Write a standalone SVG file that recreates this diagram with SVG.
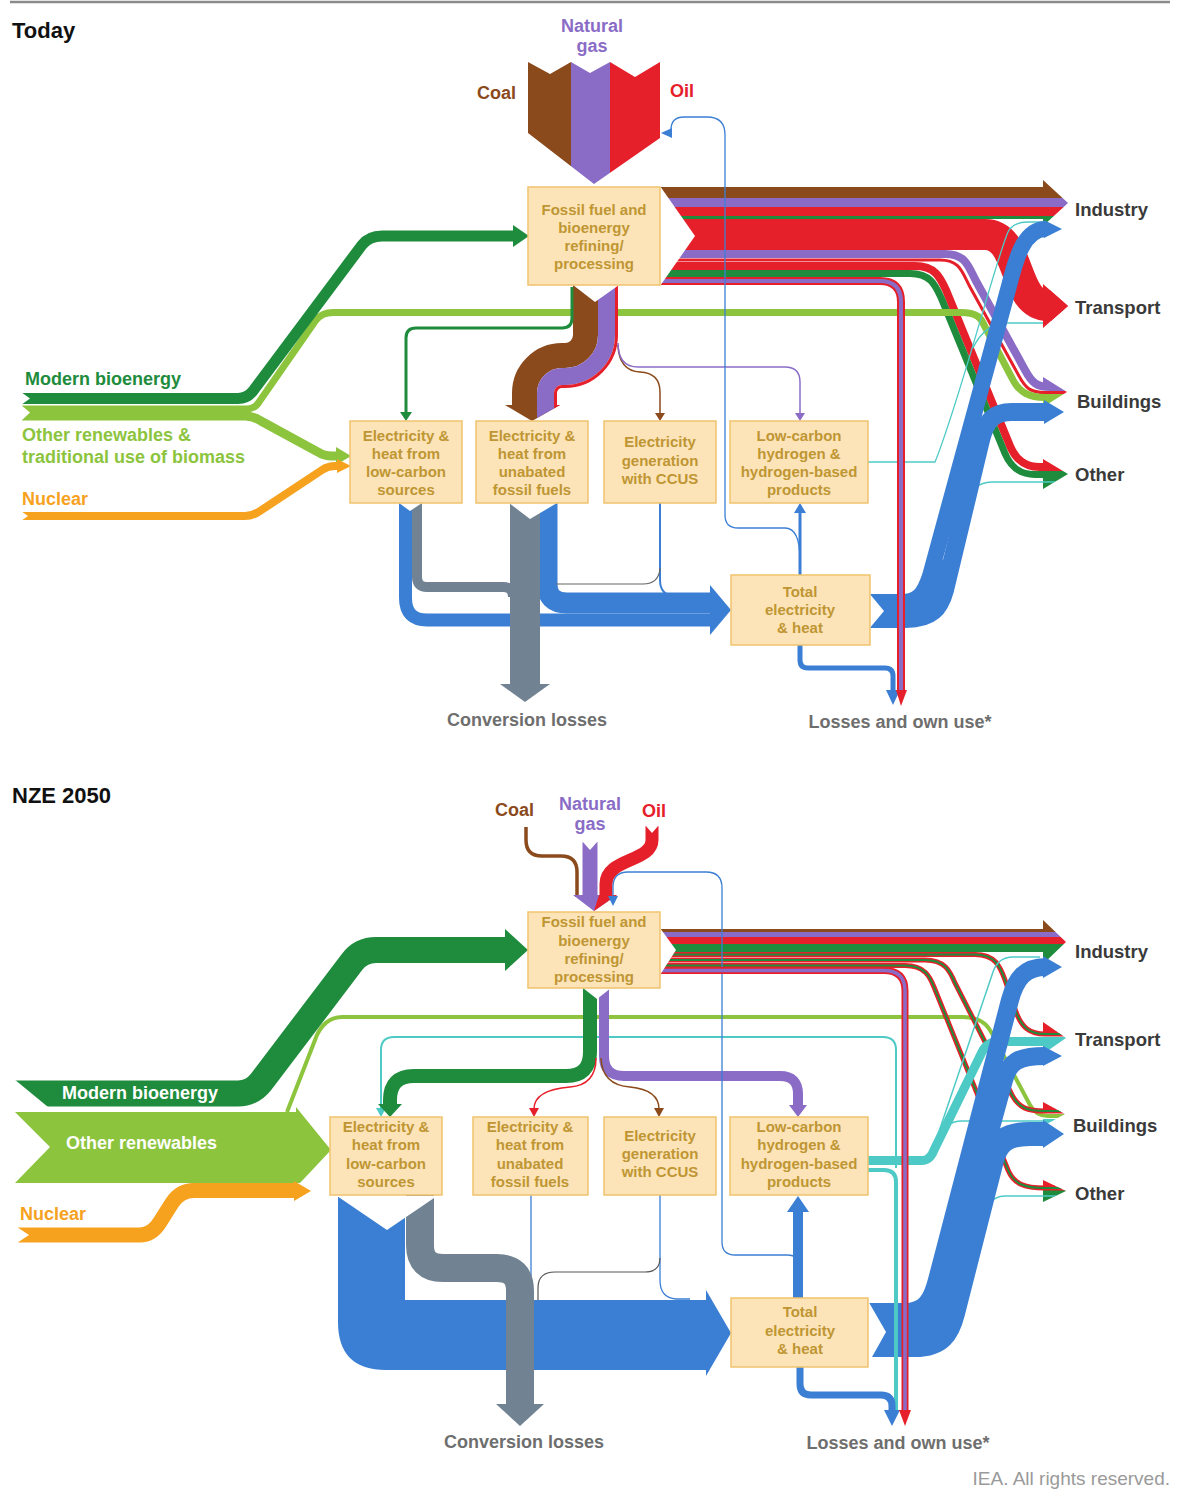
<svg xmlns="http://www.w3.org/2000/svg" width="1178" height="1499" viewBox="0 0 1178 1499">
<defs>
<style>
text{font-family:"Liberation Sans",Arial,Helvetica,sans-serif}
.ttl{font-size:22px;font-weight:bold;fill:#111}
.box{fill:#fce4b8;stroke:#efc36e;stroke-width:1.5}
.bt{font-size:15px;font-weight:bold;fill:#bf9633;text-anchor:middle}
.lb{font-size:18px;font-weight:bold}
.dst{font-size:18.5px;font-weight:bold;fill:#3a3a3a}
.los{font-size:18px;font-weight:bold;fill:#6e6e6e;text-anchor:middle}
.f{fill:none}
.s-br{stroke:#8b4a1c}.s-pu{stroke:#8a6cc7}.s-rd{stroke:#e6202a}.s-dg{stroke:#1e8c3c}.s-lg{stroke:#8cc43e}.s-or{stroke:#f6a21f}.s-bl{stroke:#3b7fd4}.s-gy{stroke:#718292}.s-tl{stroke:#4ecac6}
.br{fill:#8b4a1c}.pu{fill:#8a6cc7}.rd{fill:#e6202a}.dg{fill:#1e8c3c}.lg{fill:#8cc43e}.or{fill:#f6a21f}.bl{fill:#3b7fd4}.gy{fill:#718292}.tl{fill:#4ecac6}.wh{fill:#fff}
</style>
<clipPath id="chev1"><polygon points="528,62 550,74 571,62 590,73 610,62 635,77 660,62 660,138 594,184 528,133"/></clipPath>
<clipPath id="arrT"><rect x="0" y="0" width="1043" height="760"/><polygon points="1043,180 1068,203 1043,226"/><polygon points="1043,284 1068,306 1043,328"/><polygon points="1043,377 1067,392 1043,407"/><polygon points="1043,459 1068,474 1043,489"/></clipPath>
<clipPath id="arrN"><rect x="0" y="760" width="1043" height="739"/><polygon points="1043,920 1066,942 1043,964"/><polygon points="1043,1022 1066,1038 1043,1054"/><polygon points="1043,1102 1065,1114 1043,1126"/><polygon points="1043,1180 1066,1191 1043,1202"/></clipPath>
</defs>
<rect width="1178" height="1499" fill="#fff"/>
<line x1="10" y1="2" x2="1170" y2="2" stroke="#8a8a8a" stroke-width="2.5"/>
<text x="12" y="38" class="ttl">Today</text>
<text x="12" y="803" class="ttl">NZE 2050</text>

<g id="connectors-today">
 <g clip-path="url(#arrT)">
  <rect x="660" y="187" width="415" height="11" class="br"/>
  <rect x="660" y="198" width="415" height="9" class="pu"/>
  <rect x="660" y="207" width="415" height="9" class="rd"/>
  <rect x="660" y="216" width="415" height="3" class="dg"/>
  <rect x="1043" y="175" width="30" height="12" class="br"/>
  <rect x="1043" y="219" width="30" height="11" class="dg"/>
  <path class="f s-rd" stroke-width="31" d="M660,234.5 H985 C1022,234.5 1012,305.5 1048,305.5 H1075"/>
  <rect x="1043" y="280" width="30" height="52" class="rd"/>
  <path class="f s-rd" stroke-width="8" d="M660,266 H915 C935,266 940,277 946,290 L1010,446 C1016,460 1025,467 1040,467 H1075"/>
  <path class="f s-dg" stroke-width="7" d="M660,273.5 H910 C930,273.5 935,284.5 941,297.5 L1005,453.5 C1011,467.5 1020,474.5 1035,474.5 H1075"/>
  <rect x="1043" y="455" width="30" height="8" class="rd"/>
  <rect x="1043" y="478" width="30" height="14" class="dg"/>
  <path class="f s-pu" stroke-width="8" d="M660,254 H945 C966,254 968,266 976,281 L1025,370 C1032,383 1037,387 1050,387 H1075"/>
  <path class="f s-rd" stroke-width="3" d="M660,260 H940 C960,260 962,272 970,287 L1019,376 C1026,389 1031,392.5 1045,392.5 H1075"/>
  <path class="f s-lg" stroke-width="7" d="M22,409 H246 Q255,409 259,402 L316,320 Q322,312.5 333,312.5 H960 C978,312.5 981,318 984.5,326 L1012,378 C1019,393 1030,397.5 1045,397.5 H1075"/>
  <rect x="1043" y="372" width="30" height="11" class="pu"/>
  <rect x="1043" y="401" width="30" height="10" class="lg"/>
  <path class="f s-tl" stroke-width="1.3" d="M960,512 Q970,482 992,482 H1075"/>
 </g>
 <path class="f s-br" stroke-width="25" d="M585.5,285 V335 A20.5,20.5 0 0 1 565,355.5 H562 A37.5,37.5 0 0 0 524.5,393 V406"/>
 <path class="f s-pu" stroke-width="17" d="M606.5,285 V335 A41.5,41.5 0 0 1 565,376.5 H562 A16.5,16.5 0 0 0 545.5,393 V406"/>
 <path class="f s-rd" stroke-width="3" d="M616.5,285 V335 A51.5,51.5 0 0 1 565,386.5 H562 A6.5,6.5 0 0 0 555.5,393 V406"/>
 <polygon class="br" points="505,405 560,405 532,421"/>
 <polygon class="pu" points="537,405 554,405 554,408.4 537,418.1"/>
 <polygon class="rd" points="554,405 560,405 554,408.4"/>
 <path class="f s-dg" stroke-width="3" d="M572,287 V318 Q572,328 562,328 H416 Q406,328 406,338 V413"/>
 <polygon class="dg" points="400,412 406,421 412,412"/>
 <path class="f s-br" stroke-width="1.5" d="M618,345 Q619,371 640,372 Q660,373 660,392 V414"/>
 <polygon class="br" points="655,413 660,421 665,413"/>
 <path class="f s-pu" stroke-width="1.5" d="M618,343 Q618,367 638,367 H785 Q800,367 800,382 V414"/>
 <polygon class="pu" points="795,413 800,421 805,413"/>
 <path class="f s-dg" stroke-width="11" d="M22,398.5 H238 Q247,398.5 253,391 L362,245 Q369,236 382,236 H515"/>
 <polygon class="dg" points="513,225 529,236 513,247"/>
 <path class="f s-lg" stroke-width="9" d="M22,416 H245 Q253,416 261,421 L318,452 Q324,456 332,456 H338"/>
 <polygon class="lg" points="336,447 351,456 336,465"/>
 <path class="f s-or" stroke-width="8" d="M22,516 H245 Q253,516 260,511 L322,470 Q328,466 335,466 H339"/>
 <polygon class="or" points="337,459 351,466 337,473"/>
 <polygon class="wh" points="21,392 30,398.5 21,405"/>
 <polygon class="wh" points="21,405 30,412.5 21,421"/>
 <polygon class="wh" points="21,511 28,516 21,521"/>
 <path class="f s-bl" stroke-width="13" d="M405.5,503 V598 Q405.5,620 427,620 H714"/>
 <path class="f s-bl" stroke-width="21" d="M547,503 V583 Q547,603 567,603 H714"/>
 <polygon class="bl" points="710,585 731,610 710,635"/>
 <path class="f s-bl" stroke-width="2" d="M660,503 V580 Q660,596 676,596 H700"/>
 <path class="f" stroke="#666" stroke-width="1.2" d="M556,584 H643 Q659,584 660,568"/>
 <path class="f s-gy" stroke-width="10" d="M417,503 V577 Q417,587 427,587 H503 Q513,587 513,597"/>
 <path class="f s-gy" stroke-width="30" d="M525,503 V686"/>
 <polygon class="gy" points="500,684 525,702 550,684"/>
 <path class="f s-tl" stroke-width="1.3" d="M868,462 H935 C960,400 995,262 1008,232 Q1013,222 1028,222 H1042"/>
 <path class="f s-tl" stroke-width="1.3" d="M973,348 Q985,323 1008,323 H1043"/>
 <polygon class="bl" points="866,606 902,606 924,590 934,560 952,560 945,595 925,616 866,616"/>
 <path class="f s-bl" stroke-width="16" d="M866,602 H902 C918,602 924,594 930,576 L1009,286 C1016,258 1024,229 1046,229"/>
 <polygon class="bl" points="1044,220 1062,229 1044,238"/>
 <path class="f s-bl" stroke-width="18" d="M866,619 H906 C932,619 940,608 945,590 L981,440 C986,420 994,412 1012,412 H1046"/>
 <polygon class="bl" points="1044,400 1064,412 1044,424"/>
 <path class="f s-rd" stroke-width="8" d="M660,281 H880 Q901,281 901,302 V692"/>
 <path class="f s-pu" stroke-width="4" d="M660,281 H880 Q901,281 901,302 V692"/>
 <path class="f s-bl" stroke-width="3" d="M800,575 V512"/>
 <polygon class="bl" points="794,513 800,503 806,513"/>
 <path class="f s-bl" stroke-width="1.3" d="M800,560 Q800,528 785,528 H738 Q725,528 725,515 V135 Q725,117 707,117 H684 Q671,117 671,130 V133"/>
 <polygon class="bl" points="672,128 661,133 672,138"/>
 <path class="f s-bl" stroke-width="5" d="M800,645 V660 Q800,668 808,668 H885 Q893,668 893,676 V692"/>
 <polygon class="bl" points="886,690 893,705 900,690"/>
 <polygon class="rd" points="896,690 901,706 907,690"/>
 <polygon class="wh" points="660,186 695,236 660,286"/>
 <polygon class="wh" points="573,285 595,302 619,285"/>
 <polygon class="wh" points="509,503 530,519 557,503"/>
 <polygon class="wh" points="399,503 410,511 422,503"/>
 <polygon class="wh" points="869,593 884,611 869,629"/>
</g>

<g id="today-coal"><rect x="520" y="55" width="51" height="140" class="br" clip-path="url(#chev1)"/><text x="516" y="99" class="lb" fill="#8b4a1c" text-anchor="end">Coal</text></g>
<g id="today-gas"><rect x="571" y="55" width="39" height="140" class="pu" clip-path="url(#chev1)"/><text x="592" y="32" class="lb" fill="#8a6cc7" text-anchor="middle">Natural</text><text x="592" y="52" class="lb" fill="#8a6cc7" text-anchor="middle">gas</text></g>
<g id="today-oil"><rect x="610" y="55" width="55" height="140" class="rd" clip-path="url(#chev1)"/><text x="670" y="97" class="lb" fill="#e6202a">Oil</text></g>
<g id="today-modern-bio"><text x="25" y="385" class="lb" fill="#1e8c3c">Modern bioenergy</text></g>
<g id="today-other-ren"><text x="22" y="441" class="lb" fill="#8cc43e">Other renewables &amp;</text><text x="22" y="463" class="lb" fill="#8cc43e">traditional use of biomass</text></g>
<g id="today-nuclear"><text x="22" y="505" class="lb" fill="#f6a21f">Nuclear</text></g>
<g id="today-refining"><rect class="box" x="528" y="187" width="132" height="98"/><text class="bt" x="594" y="215">Fossil fuel and</text><text class="bt" x="594" y="233">bioenergy</text><text class="bt" x="594" y="251">refining/</text><text class="bt" x="594" y="269">processing</text></g>
<g id="today-elec-lowcarbon"><rect class="box" x="350" y="421" width="112" height="82"/><text class="bt" x="406" y="441">Electricity &amp;</text><text class="bt" x="406" y="459">heat from</text><text class="bt" x="406" y="477">low-carbon</text><text class="bt" x="406" y="495">sources</text></g>
<g id="today-elec-fossil"><rect class="box" x="476" y="421" width="112" height="82"/><text class="bt" x="532" y="441">Electricity &amp;</text><text class="bt" x="532" y="459">heat from</text><text class="bt" x="532" y="477">unabated</text><text class="bt" x="532" y="495">fossil fuels</text></g>
<g id="today-ccus"><rect class="box" x="604" y="421" width="112" height="82"/><text class="bt" x="660" y="447">Electricity</text><text class="bt" x="660" y="466">generation</text><text class="bt" x="660" y="484">with CCUS</text></g>
<g id="today-hydrogen"><rect class="box" x="730" y="421" width="138" height="82"/><text class="bt" x="799" y="441">Low-carbon</text><text class="bt" x="799" y="459">hydrogen &amp;</text><text class="bt" x="799" y="477">hydrogen-based</text><text class="bt" x="799" y="495">products</text></g>
<g id="today-total"><rect class="box" x="731" y="575" width="139" height="70"/><text class="bt" x="800" y="597">Total</text><text class="bt" x="800" y="615">electricity</text><text class="bt" x="800" y="633">&amp; heat</text></g>
<g id="today-industry"><text x="1075" y="216" class="dst">Industry</text></g>
<g id="today-transport"><text x="1075" y="314" class="dst">Transport</text></g>
<g id="today-buildings"><text x="1077" y="408" class="dst">Buildings</text></g>
<g id="today-other"><text x="1075" y="481" class="dst">Other</text></g>
<g id="today-conv-losses"><text x="527" y="726" class="los">Conversion losses</text></g>
<g id="today-losses"><text x="900" y="728" class="los">Losses and own use*</text></g>

<g id="connectors-nze">
 <g clip-path="url(#arrN)">
  <path class="f s-lg" stroke-width="4" d="M287,1112 L315,1040 Q323,1017 343,1017 H962 C985,1017 990,1028 998,1045 L1030,1105 Q1036,1116 1048,1116 H1075"/>
  <rect x="660" y="929" width="415" height="3" class="br"/>
  <rect x="660" y="932" width="415" height="5" class="pu"/>
  <rect x="660" y="937" width="415" height="7" class="rd"/>
  <rect x="660" y="944" width="415" height="8" class="dg"/>
  <rect x="1043" y="915" width="30" height="14" class="br"/>
  <rect x="1043" y="952" width="30" height="14" class="dg"/>
  <rect x="1043" y="1018" width="30" height="14" class="rd"/>
  <rect x="1043" y="1046" width="30" height="10" class="tl"/>
  <rect x="1043" y="1098" width="30" height="11" class="rd"/>
  <rect x="1043" y="1119" width="30" height="9" class="tl"/>
  <rect x="1043" y="1176" width="30" height="10" class="rd"/>
  <rect x="1043" y="1190" width="30" height="14" class="dg"/>
  <path class="f s-rd" stroke-width="5" d="M660,954.5 H975 C995,954.5 1000,966 1005,980 L1016,1012 C1022,1028 1030,1034 1045,1034 H1075"/>
  <path class="f s-dg" stroke-width="2" d="M660,954.5 H975 C995,954.5 1000,966 1005,980 L1016,1012 C1022,1028 1030,1034 1045,1034 H1075"/>
  <path class="f s-rd" stroke-width="5" d="M660,960 H925 C945,960 950,971 955,983 L1012,1095 C1019,1108 1027,1111 1045,1111 H1075"/>
  <path class="f s-dg" stroke-width="2" d="M660,960 H925 C945,960 950,971 955,983 L1012,1095 C1019,1108 1027,1111 1045,1111 H1075"/>
  <path class="f s-rd" stroke-width="5" d="M660,965.5 H905 C925,965.5 930,977 934,987 L1008,1170 C1014,1184 1024,1188 1045,1188 H1075"/>
  <path class="f s-dg" stroke-width="2" d="M660,965.5 H905 C925,965.5 930,977 934,987 L1008,1170 C1014,1184 1024,1188 1045,1188 H1075"/>
  <path class="f s-tl" stroke-width="9" d="M868,1160.5 H922 Q930,1160.5 934,1150 L982,1052 Q987,1041.5 1000,1041.5 H1075"/>
  <path class="f s-tl" stroke-width="1.5" d="M936,1142 Q944,1121 962,1121 H1075"/>
  <path class="f s-tl" stroke-width="1.5" d="M975,1232 Q985,1196 1005,1196 H1075"/>
 </g>
 <path class="f s-br" stroke-width="3.5" d="M526,827 V840 Q526,856 542,856 H561 Q577,856 577,872 V897"/>
 <path class="f s-pu" stroke-width="15" d="M590,842 V897"/>
 <path class="f s-rd" stroke-width="13" d="M652,826 V840 C652,862 606,858 606,884 V897"/>
 <polygon class="pu" points="573,895 617,895 594,911"/>
 <polygon class="rd" points="599,895 617,895 594,911"/>
 <polygon class="wh" points="582,841 590,850 598,841"/>
 <polygon class="wh" points="645,825 652,833 659,825"/>
 <path class="f s-tl" stroke-width="2" d="M896,1168 V1050 Q896,1037 883,1037 H394 Q381,1037 381,1050 V1109"/>
 <polygon class="tl" points="376,1108 381,1117 386,1108"/>
 <path class="f s-dg" stroke-width="14" d="M590,988 V1052 Q590,1076 566,1076 H414 Q390,1076 390,1100 V1105"/>
 <polygon class="dg" points="378,1104 390,1117 402,1104"/>
 <path class="f s-pu" stroke-width="10" d="M604,988 V1056 Q604,1076 624,1076 H780 Q798,1076 798,1094 V1106"/>
 <polygon class="pu" points="789,1105 798,1117 807,1105"/>
 <path class="f s-rd" stroke-width="1.5" d="M596,1058 Q596,1085 570,1087 Q534,1090 534,1109"/>
 <polygon class="rd" points="529,1108 534,1117 539,1108"/>
 <path class="f s-br" stroke-width="1.5" d="M601,1058 Q602,1085 630,1087 Q659,1090 659,1109"/>
 <polygon class="br" points="654,1108 659,1117 664,1108"/>
 <path class="f s-bl" stroke-width="1.3" d="M800,1268 Q800,1255 787,1255 H735 Q722,1255 722,1242 V888 Q722,872 706,872 H628 Q613,872 613,887 V897"/>
 <polygon class="bl" points="608,896 613,906 618,896"/>
 <polygon class="lg" points="15,1112 296,1112 296,1107 331,1150 300,1183 15,1183 50,1147"/>
 <path class="f s-or" stroke-width="15" d="M18,1235 H140 Q152,1235 160,1222 L172,1203 Q180,1190.5 194,1190.5 H296"/>
 <polygon class="or" points="294,1181 311,1191 294,1201"/>
 <path class="f s-dg" stroke-width="26" d="M15,1093.5 H238 Q252,1093.5 261,1082 L352,962 Q361,950 376,950 H508"/>
 <polygon class="dg" points="505,929 528,950 505,971"/>
 <polygon class="wh" points="14,1079 48,1107 14,1107"/>
 <polygon class="wh" points="17,1227 29,1235 17,1243"/>
 <path class="f s-tl" stroke-width="1.5" d="M930,1158 L993,972 Q998,957 1013,957 H1040"/>
 <path class="bl" d="M338,1197 V1322 Q338,1370 386,1370 H706 V1376 L731,1333 L706,1290 V1300 H405 V1197 Z"/>
 <path class="f s-bl" stroke-width="1.3" d="M531,1195 V1300"/>
 <path class="f s-bl" stroke-width="1.3" d="M660,1195 V1280 Q660,1298 676,1299 H690"/>
 <path class="f" stroke="#555" stroke-width="1.2" d="M538,1300 V1288 Q538,1272 555,1272 H645 Q660,1272 660,1258"/>
 <path class="f s-gy" stroke-width="28" d="M420,1195 V1245 Q420,1268 443,1268 H497 Q520,1268 520,1291 V1406"/>
 <polygon class="gy" points="496,1404 520,1426 544,1404"/>
 <polygon class="bl" points="866,1306 905,1306 930,1298 942,1250 972,1250 958,1320 925,1350 866,1350"/>
 <path class="f s-bl" stroke-width="18" d="M866,1312 H905 C925,1312 932,1300 937,1280 L1010,1000 C1016,978 1025,967 1046,967"/>
 <polygon class="bl" points="1043,956 1062,967 1043,978"/>
 <path class="f s-bl" stroke-width="18" d="M866,1327 H910 C932,1327 940,1315 945,1295 L1004,1080 C1009,1062 1018,1056 1045,1056"/>
 <polygon class="bl" points="1043,1046 1062,1056 1043,1066"/>
 <path class="f s-bl" stroke-width="24" d="M866,1345 H915 C940,1345 948,1333 953,1313 L992,1160 C997,1142 1006,1134 1030,1134 H1045"/>
 <polygon class="bl" points="1043,1120 1064,1134 1043,1148"/>
 <path class="f s-tl" stroke-width="4" d="M868,1170 H884 Q896,1170 896,1182 V1412"/>
 <path class="f s-rd" stroke-width="7" d="M660,970.5 H884 Q905,970.5 905,991 V1412"/>
 <path class="f s-pu" stroke-width="3.5" d="M660,970.5 H884 Q905,970.5 905,991 V1412"/>
 <path class="f s-bl" stroke-width="10" d="M798,1298 V1210"/>
 <polygon class="bl" points="787,1212 798,1196 809,1212"/>
 <path class="f s-bl" stroke-width="7" d="M800,1367 V1384 Q800,1395 811,1395 H881 Q892,1395 892,1406 V1412"/>
 <polygon class="bl" points="884,1410 892,1426 900,1410"/>
 <polygon class="rd" points="899,1410 905,1426 911,1410"/>
 <polygon class="wh" points="660,928 676,950 660,975"/>
 <polygon class="wh" points="337,1196 387,1230 437,1196"/>
 <polygon class="wh" points="867,1299 886,1332 867,1366"/>
 <polygon class="wh" points="583,988 597,999 611,988"/>
</g>

<g id="nze-coal"><text x="534" y="816" class="lb" fill="#8b4a1c" text-anchor="end">Coal</text></g>
<g id="nze-gas"><text x="590" y="810" class="lb" fill="#8a6cc7" text-anchor="middle">Natural</text><text x="590" y="830" class="lb" fill="#8a6cc7" text-anchor="middle">gas</text></g>
<g id="nze-oil"><text x="642" y="817" class="lb" fill="#e6202a">Oil</text></g>
<g id="nze-modern-bio"><text x="62" y="1099" class="lb" fill="#fff">Modern bioenergy</text></g>
<g id="nze-other-ren"><text x="66" y="1149" class="lb" fill="#fff">Other renewables</text></g>
<g id="nze-nuclear"><text x="20" y="1220" class="lb" fill="#f6a21f">Nuclear</text></g>
<g id="nze-refining"><rect class="box" x="528" y="912" width="132" height="76"/><text class="bt" x="594" y="927">Fossil fuel and</text><text class="bt" x="594" y="946">bioenergy</text><text class="bt" x="594" y="964">refining/</text><text class="bt" x="594" y="982">processing</text></g>
<g id="nze-elec-lowcarbon"><rect class="box" x="330" y="1117" width="112" height="78"/><text class="bt" x="386" y="1132">Electricity &amp;</text><text class="bt" x="386" y="1150">heat from</text><text class="bt" x="386" y="1169">low-carbon</text><text class="bt" x="386" y="1187">sources</text></g>
<g id="nze-elec-fossil"><rect class="box" x="473" y="1117" width="115" height="78"/><text class="bt" x="530" y="1132">Electricity &amp;</text><text class="bt" x="530" y="1150">heat from</text><text class="bt" x="530" y="1169">unabated</text><text class="bt" x="530" y="1187">fossil fuels</text></g>
<g id="nze-ccus"><rect class="box" x="604" y="1117" width="112" height="78"/><text class="bt" x="660" y="1141">Electricity</text><text class="bt" x="660" y="1159">generation</text><text class="bt" x="660" y="1177">with CCUS</text></g>
<g id="nze-hydrogen"><rect class="box" x="730" y="1117" width="138" height="78"/><text class="bt" x="799" y="1132">Low-carbon</text><text class="bt" x="799" y="1150">hydrogen &amp;</text><text class="bt" x="799" y="1169">hydrogen-based</text><text class="bt" x="799" y="1187">products</text></g>
<g id="nze-total"><rect class="box" x="731" y="1298" width="137" height="69"/><text class="bt" x="800" y="1317">Total</text><text class="bt" x="800" y="1336">electricity</text><text class="bt" x="800" y="1354">&amp; heat</text></g>
<g id="nze-industry"><text x="1075" y="958" class="dst">Industry</text></g>
<g id="nze-transport"><text x="1075" y="1046" class="dst">Transport</text></g>
<g id="nze-buildings"><text x="1073" y="1132" class="dst">Buildings</text></g>
<g id="nze-other"><text x="1075" y="1200" class="dst">Other</text></g>
<g id="nze-conv-losses"><text x="524" y="1448" class="los">Conversion losses</text></g>
<g id="nze-losses"><text x="898" y="1449" class="los">Losses and own use*</text></g>
<text x="1170" y="1485" font-size="19" fill="#9a9a9a" text-anchor="end">IEA. All rights reserved.</text>
</svg>
